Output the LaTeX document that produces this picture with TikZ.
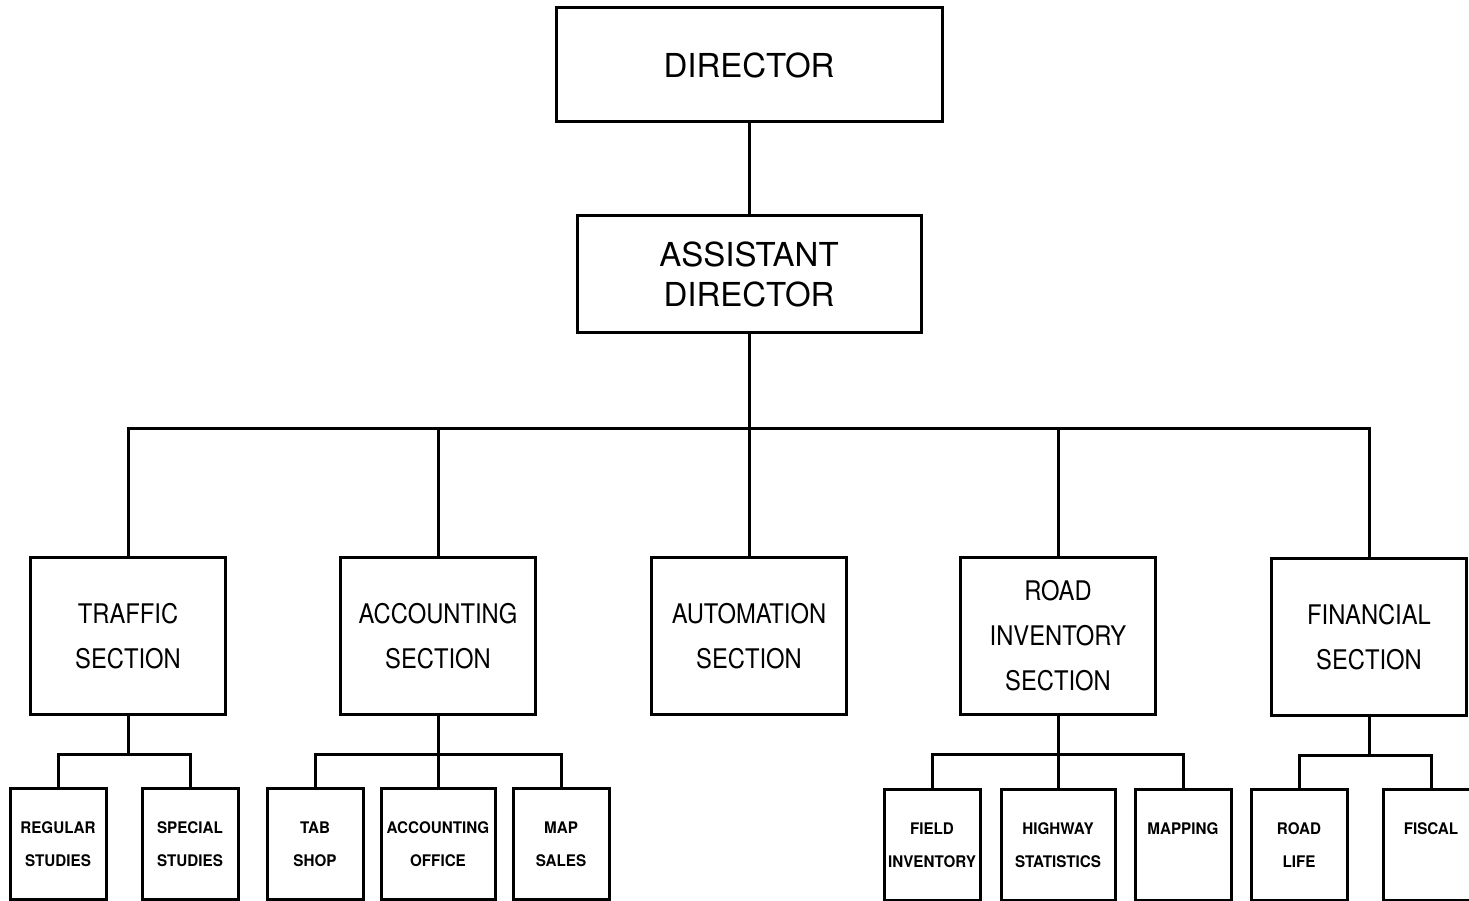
\documentclass[tikz,border=0pt]{standalone}
\usepackage{fontspec}
\setmainfont{TeX Gyre Heros}
\newfontfamily\letterfont[FakeStretch=0.88]{TeX Gyre Heros}
\newfontfamily\smallletterfont[FakeStretch=0.95]{TeX Gyre Heros}
\usepackage{tikz}

\tikzset{
  headbox/.style={draw, inner sep=0pt, align=center, font=\fontsize{33}{40}\selectfont},
  sectbox/.style={draw, inner sep=0pt, align=center, minimum width=195pt, minimum height=157pt,
    font=\letterfont\fontsize{27}{45}\selectfont},
  unitbox/.style={draw, inner sep=0pt, align=center, minimum width=96pt, minimum height=111pt,
    font=\smallletterfont\bfseries\fontsize{16}{33}\selectfont},
}

\begin{document}
\begin{tikzpicture}[x=1pt, y=-1pt, line width=3pt]
            \path[use as bounding box, clip] (0,0) rectangle (1469,901);

            \node[headbox, minimum width=386pt, minimum height=114pt] (director) at (749,65) {DIRECTOR};
            \node[headbox, minimum width=344pt, minimum height=116pt] (assistant) at (749,274) {ASSISTANT\\DIRECTOR};
            \coordinate (bus) at (749,428);

            \node[sectbox] (traffic) at (128,636) {TRAFFIC\\SECTION};
            \node[sectbox] (accounting) at (438,636) {ACCOUNTING\\SECTION};
            \node[sectbox] (automation) at (749,636) {AUTOMATION\\SECTION};
            \node[sectbox] (roadinv) at (1058,636) {ROAD\\INVENTORY\\SECTION};
            \node[sectbox] (financial) at (1369,637) {FINANCIAL\\SECTION};

            \node[unitbox] (regular) at (58,844) {REGULAR\\STUDIES};
            \node[unitbox] (special) at (190,844) {SPECIAL\\STUDIES};
            \node[unitbox] (tab) at (315,844) {TAB\\SHOP};
            \node[unitbox, minimum width=114pt] (accoffice) at (438,844) {ACCOUNTING\\OFFICE};
            \node[unitbox] (map) at (561,844) {MAP\\SALES};
            \node[unitbox] (field) at (932,845) {FIELD\\INVENTORY};
            \node[unitbox, minimum width=114pt] (highway) at (1058,845) {HIGHWAY\\STATISTICS};
            \node[unitbox] (mapping) at (1183,845) {MAPPING\\\mbox{}};
            \node[unitbox] (roadlife) at (1299,845) {ROAD\\LIFE};
            \node[unitbox] (fiscal) at (1431,845) {FISCAL\\\mbox{}};

            \draw (director) -- (assistant);
            \draw (assistant) -- (bus);
            \foreach \s in {traffic, accounting, automation, roadinv, financial}
                \draw (bus) -| (\s.north);

            \foreach \s/\u in {traffic/regular, traffic/special,
                accounting/tab, accounting/accoffice, accounting/map,
                roadinv/field, roadinv/highway, roadinv/mapping,
                financial/roadlife, financial/fiscal} {
                \draw (\s.south) -- ++(0,38) -| (\u.north);
            }
        \end{tikzpicture}
\end{document}
